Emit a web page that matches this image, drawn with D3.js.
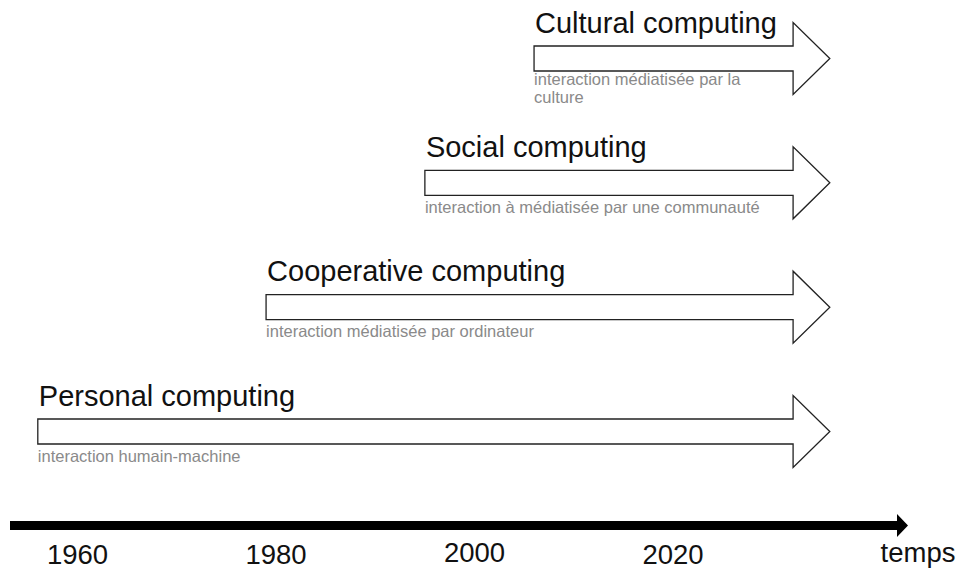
<!DOCTYPE html>
<html>
<head>
<meta charset="utf-8">
<script src="https://cdn.jsdelivr.net/npm/d3@7"></script>
<style>
  html, body { margin: 0; padding: 0; background: #fff; overflow: hidden; }
  svg { display: block; font-family: Arial, "Liberation Sans", Helvetica, sans-serif; }
</style>
</head>
<body>
<div id="chart"></div>
<script>
// Data
const eras = ["Cultural computing", "Social computing", "Cooperative computing", "Personal computing"];
const startYears = [2006, 1995, 1979, 1956];
const subtitles = [
  ["interaction médiatisée par la", "culture"],
  ["interaction à médiatisée par une communauté"],
  ["interaction médiatisée par ordinateur"],
  ["interaction humain-machine"]
];
const tickYears = [1960, 1980, 2000, 2020];
const axisLabel = "temps";
const shaftEndYear = 2032.1;
const tipYear = 2035.8;

// Style properties
const size = { width: 958, height: 570 };
const shaftHalf = 12.5;
const headHalf = 36;

const svg = d3.select("#chart")
  .append("svg")
  .attr("width", size.width)
  .attr("height", size.height);

// Scales
const x = d3.scaleLinear([1960, 2020], [77.5, 673]);
const y = d3.scalePoint(eras, [58.5, 431.5]);

const rows = eras.map((name, i) => ({ name, start: startYears[i], sub: subtitles[i] }));

const arrowPath = (d) => {
  const cy = y(d.name);
  const x0 = x(d.start), x1 = x(shaftEndYear), x2 = x(tipYear);
  return `M${x0},${cy - shaftHalf} L${x1},${cy - shaftHalf} L${x1},${cy - headHalf}`
    + ` L${x2},${cy} L${x1},${cy + headHalf} L${x1},${cy + shaftHalf}`
    + ` L${x0},${cy + shaftHalf} Z`;
};

const g = svg.append("g")
  .selectAll("g")
  .data(rows)
  .join("g");

g.append("path")
  .attr("d", arrowPath)
  .attr("fill", "#fff")
  .attr("stroke", "#222")
  .attr("stroke-width", 1.3)
  .attr("stroke-linejoin", "miter");

g.append("text")
  .attr("x", (d) => x(d.start) + 1)
  .attr("y", (d) => y(d.name) - 26)
  .attr("font-size", 29)
  .attr("fill", "#111")
  .text((d) => d.name);

// subtitles, one text per line (the cultural one wraps on two lines)
g.each(function (d) {
  d3.select(this)
    .selectAll("text.sub")
    .data(d.sub)
    .join("text")
    .attr("class", "sub")
    .attr("x", x(d.start))
    .attr("y", (s, i) => y(d.name) + (d.sub.length > 1 ? 26 : 30) + i * 18)
    .attr("font-size", 16.5)
    .attr("fill", "#8a8a8a")
    .text((s) => s);
});

// Time axis
const axisY = 525.5;
const axisStart = 10;
const axisEnd = 897;
const axisTip = 908;

svg.append("path")
  .attr("d", `M${axisStart},${axisY - 4.5} L${axisEnd},${axisY - 4.5} L${axisEnd},${axisY - 11.5}`
    + ` L${axisTip},${axisY} L${axisEnd},${axisY + 11.5} L${axisEnd},${axisY + 4.5}`
    + ` L${axisStart},${axisY + 4.5} Z`)
  .attr("fill", "#000");

svg.append("g")
  .selectAll("text")
  .data(tickYears)
  .join("text")
  .attr("x", (d) => x(d))
  .attr("y", (d) => (d === 2000 ? 561.5 : 563.5))
  .attr("text-anchor", "middle")
  .attr("font-size", 27.5)
  .attr("fill", "#111")
  .text((d) => d);

svg.append("text")
  .attr("x", 918)
  .attr("y", 561.5)
  .attr("text-anchor", "middle")
  .attr("font-size", 27.5)
  .attr("fill", "#111")
  .text(axisLabel);
</script>
</body>
</html>
